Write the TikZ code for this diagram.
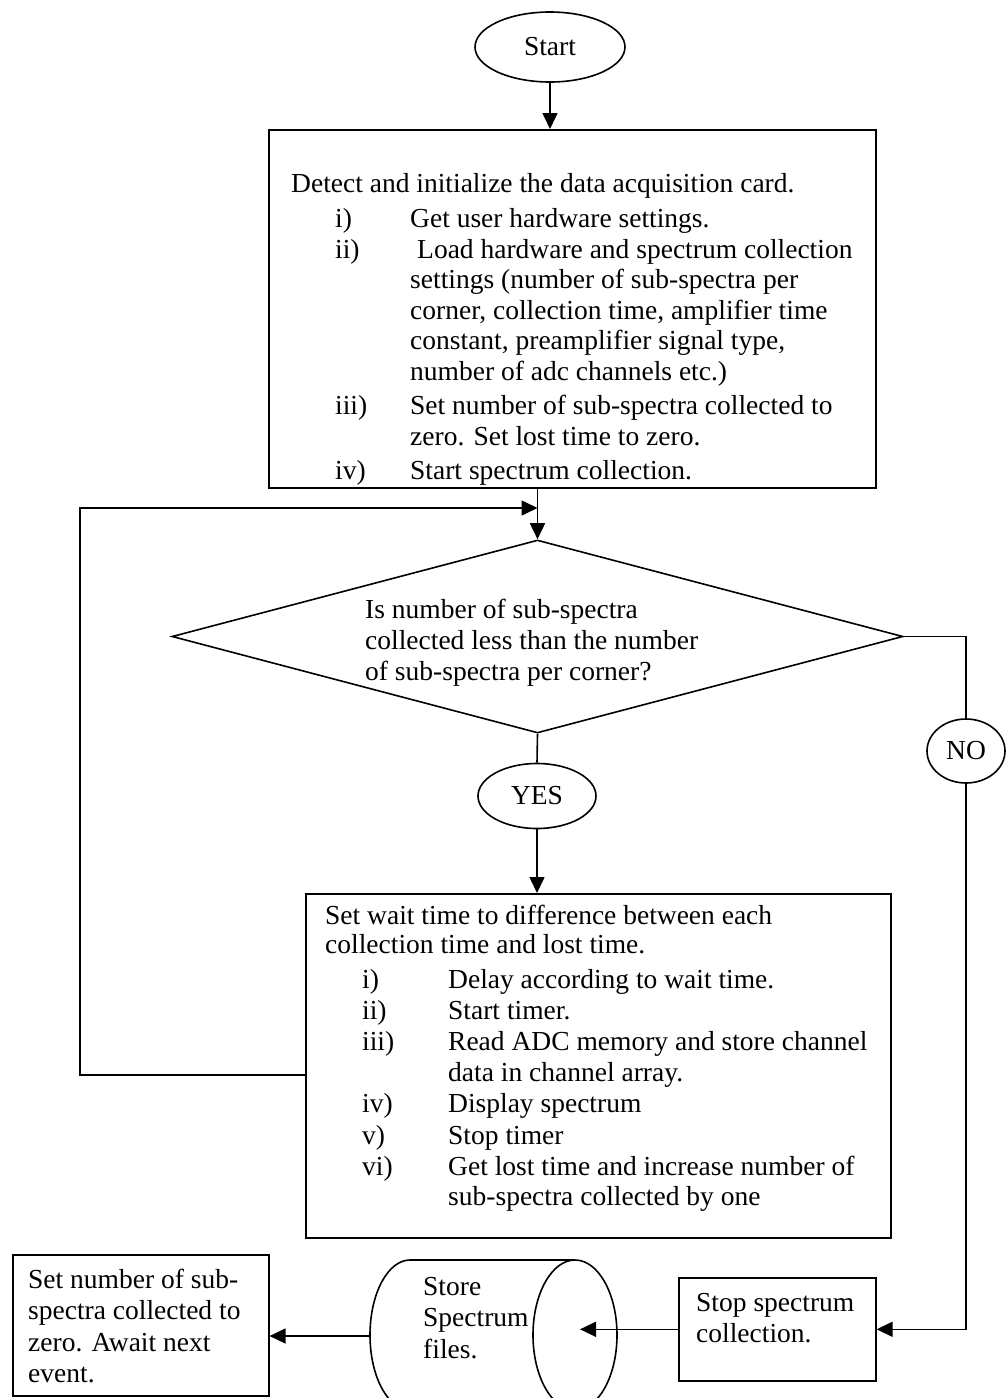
\documentclass[tikz,border=0pt]{standalone}
\usepackage{fontspec}
\setmainfont{Liberation Serif}
\usetikzlibrary{arrows.meta,shapes.geometric,calc}
\newcommand{\tf}{\fontsize{27.5}{30.5}\selectfont}
\begin{document}
\begin{tikzpicture}[x=1pt,y=-1pt,
  ln/.style={line width=1.6pt},
  arr/.style={ln,-{Triangle[length=16pt,width=15pt]}},
  box/.style={draw,ln,rectangle,inner sep=0,anchor=north west},
  txt/.style={anchor=base west,inner sep=0,font=\tf},
  oval/.style={draw,ln,ellipse,inner sep=0,font=\tf}]
\useasboundingbox (0,0) rectangle (1007,1398);
\fill[white] (0,0) rectangle (1007,1398);

% shapes
\node[oval,minimum width=150pt,minimum height=70pt] (start) at (550,47) {Start};
\node[box,minimum width=607pt,minimum height=358pt] (b1) at (268,129) {};
\node[draw,ln,diamond,minimum width=731pt,minimum height=193pt,inner sep=0] (dia) at (537.5,636.5) {};
\node[oval,minimum width=118pt,minimum height=65pt] (yes) at (537,796) {YES};
\node[oval,minimum width=78pt,minimum height=64pt] (no) at (966,751) {NO};
\node[box,minimum width=585pt,minimum height=344pt] (b2) at (305,893) {};
\node[box,minimum width=197pt,minimum height=103pt] (stop) at (678,1277) {};
\node[box,minimum width=256pt,minimum height=141pt] (lb) at (12,1254) {};

% cylinder
\draw[ln] (410,1260) -- (575,1260);
\draw[ln] (410,1260) arc[start angle=-90,end angle=-270,x radius=40,y radius=75];
\draw[ln] (575,1335) ellipse[x radius=42,y radius=75];

% texts
\node[txt] (t1) at (291,192) {\begin{tabular}[t]{@{\hspace{44pt}}p{75pt}@{}l@{}}
\multicolumn{2}{@{}l@{}}{Detect and initialize the data acquisition card.}\\[5pt]
i) & Get user hardware settings.\\
ii) & \hspace{7pt}Load hardware and spectrum collection\\
 & settings (number of sub-spectra per\\
 & corner, collection time, amplifier time\\
 & constant, preamplifier signal type,\\
 & number of adc channels etc.)\\[4pt]
iii) & Set number of sub-spectra collected to\\
 & zero. Set lost time to zero.\\[3.5pt]
iv) & Start spectrum collection.
\end{tabular}};

\node[txt] (dq) at (365,618) {\begin{tabular}[t]{@{}l@{}}
Is number of sub-spectra\\[0.5pt]
collected less than the number\\[0.5pt]
of sub-spectra per corner?
\end{tabular}};

\node[txt] (t2) at (325,924) {\begin{tabular}[t]{@{\hspace{37pt}}p{86pt}@{}l@{}}
\multicolumn{2}{@{}l@{}}{Set wait time to difference between each}\\[-1.5pt]
\multicolumn{2}{@{}l@{}}{collection time and lost time.}\\[5pt]
i) & Delay according to wait time.\\
ii) & Start timer.\\[1pt]
iii) & Read ADC memory and store channel\\
 & data in channel array.\\[1pt]
iv) & Display spectrum\\[1.5pt]
v) & Stop timer\\
vi) & Get lost time and increase number of\\
 & sub-spectra collected by one
\end{tabular}};

\node[txt] (ts) at (696,1311) {\begin{tabular}[t]{@{}l@{}}
Stop spectrum\\[1pt]
collection.
\end{tabular}};

\node[txt] (cyl) at (423,1295) {\begin{tabular}[t]{@{}l@{}}
Store\\[1pt]
Spectrum\\[1pt]
files.
\end{tabular}};

\node[txt] (tl) at (28,1288) {\begin{tabular}[t]{@{}l@{}}
Set number of sub-\\[1pt]
spectra collected to\\[1pt]
zero. Await next\\[1pt]
event.
\end{tabular}};

% connectors
\coordinate (lpy) at (0,1075);
\coordinate (lp1) at (80,508);
\coordinate (cylin) at (580,1328);
\coordinate (cylL) at (370,1336);

\draw[arr] (start.south) -- (start.south |- b1.north);
\draw[arr] (dia.north |- b1.south) -- (dia.north);
\draw[arr] (b2.west |- lpy) -| (lp1) -- (dia.north |- lp1);
\draw[ln] (dia.east) -| (no.north);
\draw[arr] (no.south) |- (stop.east);
\draw[ln] (dia.south) -- (yes.north);
\draw[arr] (yes.south) -- (yes.south |- b2.north);
\draw[arr] (stop.west) -- (stop.west -| cylin);
\draw[arr] (cylL) -- (cylL -| lb.east);
\end{tikzpicture}
\end{document}
